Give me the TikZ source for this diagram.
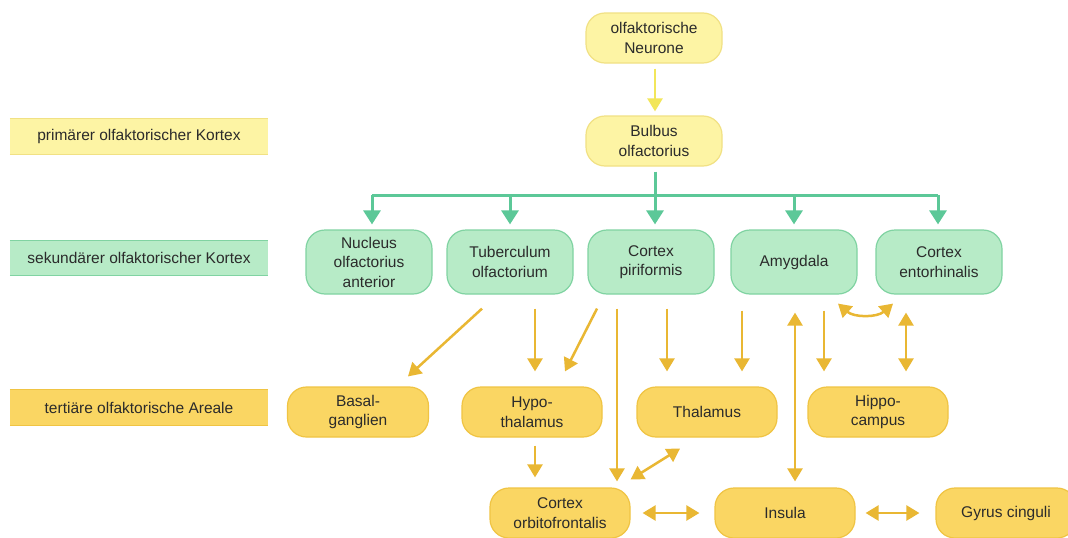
\documentclass[tikz,border=0pt]{standalone}
\usepackage{fontspec}
\setmainfont{Liberation Sans}
\usetikzlibrary{arrows.meta,calc}
\definecolor{txt}{HTML}{2B2B2B}
\definecolor{yfill}{HTML}{FDF4A4}
\definecolor{ydraw}{HTML}{F1E184}
\definecolor{gfill}{HTML}{B7EBC7}
\definecolor{gdraw}{HTML}{80D3A2}
\definecolor{ofill}{HTML}{FAD663}
\definecolor{odraw}{HTML}{F0C443}
\definecolor{oarrow}{HTML}{E9B733}
\definecolor{garrow}{HTML}{5CC898}
\definecolor{yarrow}{HTML}{F2E65A}
\tikzset{
  box/.style={rectangle, rounded corners=19pt, align=center, inner sep=0pt,
    font=\fontsize{15.5}{19.5}\selectfont, text=txt, line width=1.2pt},
  ybox/.style={box, fill=yfill, draw=ydraw, minimum width=136pt, minimum height=50pt},
  gbox/.style={box, fill=gfill, draw=gdraw, minimum width=126pt, minimum height=64pt},
  obox/.style={box, fill=ofill, draw=odraw, minimum width=140pt, minimum height=50pt},
  lab/.style={rectangle, minimum width=258pt, minimum height=35pt, inner sep=0pt,
    font=\fontsize{15.5}{19}\selectfont, text=txt},
  oarr/.style={draw=oarrow, line width=2.5pt, -{Triangle[width=15pt,length=13pt]}, color=oarrow},
  oarrb/.style={draw=oarrow, line width=2.5pt, {Triangle[width=15pt,length=13pt]}-{Triangle[width=15pt,length=13pt]}, color=oarrow},
  garr/.style={draw=garrow, line width=3pt, -{Triangle[width=17pt,length=14pt]}, color=garrow},
  gline/.style={draw=garrow, line width=3pt},
}
\begin{document}
\begin{tikzpicture}[x=1pt,y=-1pt]
\useasboundingbox (0,0) rectangle (1068,538);
\fill[white] (0,0) rectangle (1068,538);

% left labels
\node[lab, fill=yfill] (lp) at (139,136.5) {primärer olfaktorischer Kortex};
\draw[ydraw, line width=1pt] (lp.north west) -- (lp.north east) (lp.south west) -- (lp.south east);
\node[lab, fill=gfill] (ls) at (139,258) {sekundärer olfaktorischer Kortex};
\draw[gdraw, line width=1pt] (ls.north west) -- (ls.north east) (ls.south west) -- (ls.south east);
\node[lab, fill=ofill] (lt) at (139,407.5) {tertiäre olfaktorische Areale};
\draw[odraw, line width=1pt] (lt.north west) -- (lt.north east) (lt.south west) -- (lt.south east);

% nodes
\node[ybox] (neur) at (654,38) {olfaktorische\\Neurone};
\node[ybox] (bulb) at (654,141) {Bulbus\\olfactorius};

\node[gbox] (nuc) at (369,262) {Nucleus\\olfactorius\\anterior};
\node[gbox] (tub) at (510,262) {Tuberculum\\olfactorium};
\node[gbox] (pir) at (651,262) {Cortex\\piriformis};
\node[gbox] (amy) at (794,262) {Amygdala};
\node[gbox] (ent) at (939,262) {Cortex\\entorhinalis};

\node[obox, minimum width=141pt] (basal) at (358,412) {Basal-\\ganglien};
\node[obox] (hypo) at (532,412) {Hypo-\\thalamus};
\node[obox] (thal) at (707,412) {Thalamus};
\node[obox] (hippo) at (878,412) {Hippo-\\campus};

\node[obox] (orbito) at (560,513) {Cortex\\orbitofrontalis};
\node[obox] (insula) at (785,513) {Insula};
\node[obox] (gyrus) at (1006,513) {Gyrus cinguli};

% yellow arrow
\draw[draw=yarrow, line width=2.5pt, -{Triangle[width=15pt,length=13pt]}, color=yarrow]
  ($(neur.south)+(1,5)$) -- ($(bulb.north)+(1,-4)$);

% green bus
\coordinate (busL) at (372,195);
\coordinate (busR) at (938,195);
\draw[gline] (busL) -- (busR);
\draw[gline] ($(bulb.south)+(1,5)$) -- (655,195);
\draw[garr] (busL) -- ($(nuc.north)+(3,-5)$);
\draw[garr] (tub.north |- busL) -- ($(tub.north)+(0,-5)$);
\draw[garr] (655,194) -- ($(pir.north)+(4,-5)$);
\draw[garr] (amy.north |- busL) -- ($(amy.north)+(0,-5)$);
\draw[garr] (busR) -- ($(ent.north)+(-1,-5)$);

% orange arrows
\draw[oarr] ($(tub.south)+(-28,14)$) -- ($(basal.north)+(50,-10)$);
\draw[oarr] ($(tub.south)+(25,14)$) -- ($(hypo.north)+(3,-15)$);
\draw[oarr] ($(pir.south)+(-54,14)$) -- ($(hypo.north)+(33,-15)$);
\draw[oarr] ($(pir.south)+(-34,14)$) -- ($(orbito.north)+(57,-6)$);
\draw[oarr] ($(pir.south)+(16,14)$) -- ($(thal.north)+(-40,-15)$);
\draw[oarr] ($(amy.south)+(-52,16)$) -- ($(thal.north)+(35,-15)$);
\draw[oarrb] ($(insula.north)+(10,-6)$) -- ($(amy.south)+(1,18)$);
\draw[oarr] ($(amy.south)+(30,16)$) -- ($(hippo.north)+(-54,-15)$);
\draw[oarrb] ($(hippo.north)+(28,-15)$) -- ($(ent.south)+(-33,18)$);
\draw[oarrb] ($(amy.south)+(44,9)$) .. controls +(16,14) and +(-16,14) .. ($(ent.south)+(-46,9)$);
\draw[oarr] ($(hypo.south)+(3,8)$) -- ($(orbito.north)+(-25,-10)$);
\draw[oarrb] ($(orbito.north east)+(0,-8)$) -- ($(thal.south)+(-27,11)$);
\draw[oarrb] ($(orbito.east)+(12,0)$) -- ($(insula.west)+(-15,0)$);
\draw[oarrb] ($(insula.east)+(10,0)$) -- ($(gyrus.west)+(-16,0)$);
\end{tikzpicture}
\end{document}
